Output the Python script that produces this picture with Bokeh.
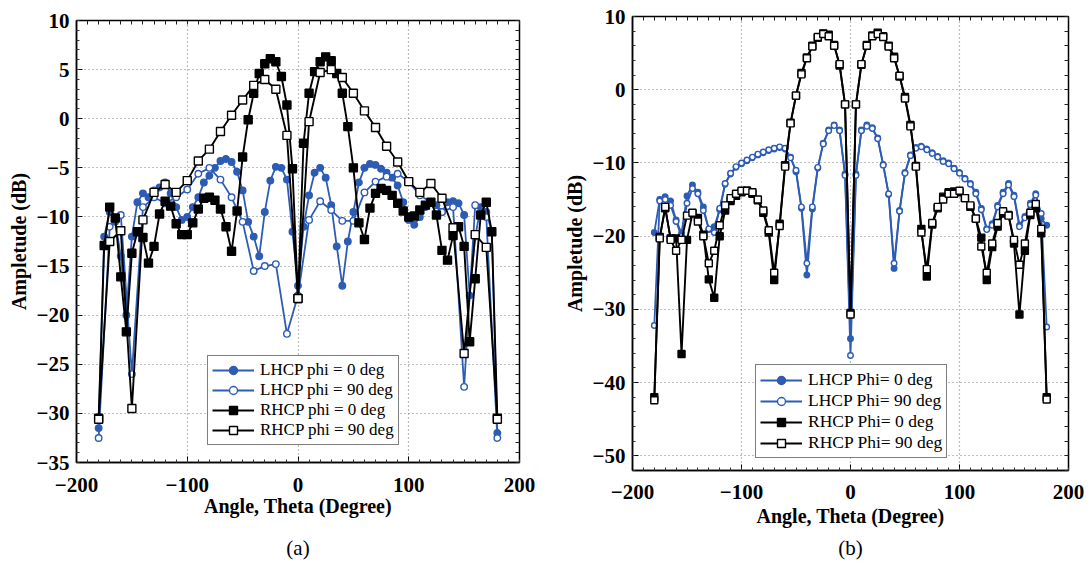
from bokeh.plotting import figure
from bokeh.layouts import row, column
from bokeh.models import LinearAxis, SingleIntervalTicker, FixedTicker, Range1d
from bokeh.embed import file_html
from bokeh.resources import INLINE

# ---------------- data ----------------
ANG5 = list(range(-180, 181, 5))    # sampled angles (deg), 5-degree cuts
ANG10 = list(range(-180, 181, 10))  # sampled angles (deg), 10-degree cuts

# panel (a)
a_lhcp_phi0 = [-31.5, -12.0, -9.5, -10.5, -14.0, -20.0, -12.0, -8.5, -7.6, -8.0,
               -7.3, -7.0, -6.5, -7.6, -9.0, -10.3, -10.0, -9.0, -8.0, -6.5,
               -5.8, -5.0, -4.3, -4.1, -4.4, -5.4, -7.3, -10.5, -12.0, -14.0,
               -9.5, -6.3, -4.9, -5.0, -6.2, -11.5, -17.0, -11.0, -7.8, -5.5,
               -5.0, -6.0, -8.8, -13.0, -17.0, -12.5, -9.5, -6.5, -5.0, -4.6,
               -4.7, -5.1, -5.5, -6.0, -6.8, -8.5, -10.3, -10.8, -10.0, -9.0,
               -8.6, -8.8, -9.5, -8.5, -8.4, -8.6, -9.8, -18.0, -12.0, -9.0,
               -9.5, -11.5, -32.0]
a_lhcp_phi90 = [-32.5, -11.0, -9.8, -26.0, -9.0, -8.0, -8.6, -8.0, -7.2, -5.6,
                -5.0, -6.2, -8.0, -10.5, -15.5, -15.0, -14.8, -21.9, -18.0, -10.3,
                -8.4, -9.3, -10.4, -10.4, -7.5, -6.4, -5.9, -5.6, -6.4, -7.8,
                -8.5, -9.5, -9.0, -27.3, -8.8, -10.0, -32.5]
a_rhcp_phi0 = [-30.5, -12.9, -9.0, -10.1, -16.1, -21.7, -13.7, -11.5, -12.1, -14.7,
               -13.0, -9.7, -8.4, -8.9, -10.7, -11.8, -11.8, -10.6, -9.2, -8.1,
               -8.0, -8.3, -9.2, -11.0, -13.5, -9.4, -3.9, -0.1, 2.6, 4.6,
               5.6, 6.1, 5.8, 4.3, 1.4, -5.1, -18.3, -2.5, 2.6, 4.8,
               5.8, 6.3, 5.9, 4.6, 2.6, -0.8, -5.0, -10.6, -12.3, -9.1,
               -7.6, -7.1, -7.3, -7.8, -8.6, -9.4, -10.0, -9.9, -9.3, -8.8,
               -8.5, -9.8, -13.4, -14.4, -11.9, -11.0, -13.0, -22.7, -16.3, -9.8,
               -8.5, -11.5, -30.5]
a_rhcp_phi90 = [-30.6, -12.5, -11.4, -29.5, -10.3, -7.5, -6.7, -7.5, -6.3, -4.3,
                -3.1, -1.3, 0.35, 1.9, 3.4, 4.0, 3.0, -1.7, -18.3, -0.3,
                4.7, 5.0, 4.2, 2.6, 0.8, -0.9, -2.8, -4.4, -6.4, -7.5,
                -6.6, -8.1, -11.1, -23.9, -11.8, -13.1, -30.6]

# panel (b)
b_lhcp_phi0 = [-19.5, -15.0, -14.6, -15.2, -17.8, -19.6, -14.5, -13.0, -14.0, -16.0,
               -19.1, -18.7, -16.4, -12.9, -11.5, -10.6, -10.1, -9.7, -9.3, -8.9,
               -8.6, -8.3, -8.1, -7.9, -8.1, -9.2, -11.2, -16.2, -25.3, -16.3,
               -10.7, -7.3, -5.5, -4.8, -5.5, -11.5, -34.0, -11.5, -5.5, -4.8,
               -5.2, -6.6, -10.2, -14.3, -24.4, -16.5, -11.3, -8.9, -7.9, -7.7,
               -8.1, -8.6, -9.1, -9.7, -10.0, -10.7, -11.3, -12.1, -12.8, -14.0,
               -16.2, -19.0, -18.3, -15.8, -14.0, -12.8, -14.4, -18.5, -17.3, -15.5,
               -14.2, -17.6, -18.5]
b_lhcp_phi90 = [-32.2, -15.2, -15.0, -15.8, -18.0, -20.0, -15.5, -13.5, -14.2, -16.5,
                -19.0, -19.5, -16.2, -12.8, -11.4, -10.5, -10.0, -9.6, -9.2, -8.8,
                -8.5, -8.2, -8.0, -7.8, -8.0, -9.3, -11.0, -16.0, -23.7, -16.0,
                -10.6, -7.4, -5.6, -4.9, -5.6, -11.7, -36.3, -11.7, -5.6, -5.0,
                -5.3, -6.7, -10.3, -14.2, -23.7, -16.6, -11.4, -9.0, -8.0, -7.8,
                -8.2, -8.7, -9.2, -9.8, -10.1, -10.8, -11.4, -12.2, -12.9, -14.2,
                -16.4, -19.1, -18.5, -16.0, -14.2, -13.0, -14.6, -18.7, -17.5, -15.7,
                -14.4, -16.9, -32.4]
b_rhcp_phi0 = [-42.0, -20.1, -16.2, -20.3, -20.3, -36.1, -20.5, -16.9, -17.5, -19.8,
               -25.9, -28.4, -20.0, -16.5, -15.2, -14.5, -14.0, -13.8, -14.2, -15.1,
               -16.8, -19.5, -26.0, -18.3, -10.3, -4.5, -0.8, 2.3, 4.4, 6.0,
               7.1, 7.7, 7.5, 6.1, 3.3, -2.0, -30.5, -2.0, 3.4, 6.1,
               7.4, 7.8, 7.3, 6.0, 4.5, 1.8, -1.0, -4.8, -10.4, -19.0,
               -25.5, -18.4, -16.2, -14.6, -14.0, -13.9, -14.0, -14.8, -16.0, -17.6,
               -20.2, -26.0, -21.5, -18.7, -16.9, -17.1, -21.0, -30.7, -22.0, -17.1,
               -16.2, -19.6, -42.0]
b_rhcp_phi90 = [-42.4, -20.3, -16.0, -20.5, -22.0, -20.5, -17.2, -16.8, -18.0, -20.0,
                -23.7, -22.0, -18.5, -15.8, -14.8, -14.2, -13.8, -13.8, -14.0, -15.0,
                -16.5, -19.2, -25.0, -18.6, -10.5, -4.6, -0.8, 2.1, 4.3, 5.9,
                7.2, 7.6, 7.3, 6.0, 3.5, -2.0, -30.7, -2.0, 3.5, 6.0,
                7.3, 7.6, 7.2, 5.9, 4.3, 1.9, -1.2, -5.0, -10.5, -19.5,
                -24.5, -18.2, -16.0, -15.0, -14.2, -14.2, -13.8, -14.8, -15.8, -17.6,
                -21.4, -25.0, -21.0, -18.2, -16.6, -17.2, -20.5, -23.9, -21.0, -16.8,
                -15.6, -19.0, -42.3]

labels_a = ["LHCP phi = 0 deg", "LHCP phi = 90 deg", "RHCP phi = 0 deg", "RHCP phi = 90 deg"]
labels_b = ["LHCP Phi= 0 deg", "LHCP Phi= 90 deg", "RHCP Phi= 0 deg", "RHCP Phi= 90 deg"]
x_label = "Angle, Theta (Degree)"
y_label = "Ampletude (dB)"

# ---------------- styling ----------------
SERIF = "Liberation Serif"
BLUE = "#2D5CB4"
BLACK = "#000000"


def make_panel(width, bl, br, bt, bb, yr, yint, series, labels, legend_loc,
               caption, tick_std, xlab_std, cap_std, sq, ci, leg_font, glyph_w):
    p = figure(width=width, height=567, x_range=Range1d(-200, 200), y_range=Range1d(*yr),
               output_backend="svg", toolbar_location=None,
               min_border_left=bl, min_border_right=br, min_border_top=bt, min_border_bottom=bb)
    p.background_fill_color = "white"
    p.border_fill_color = "white"
    p.outline_line_color = "black"
    p.outline_line_width = 1.5

    styles = [(BLUE, "circle", BLUE, ci, 1.8),
              (BLUE, "circle", "white", ci, 1.8),
              (BLACK, "square", BLACK, sq, 1.9),
              (BLACK, "square", "white", sq, 1.9)]
    for (xs, ys), (col, mk, fill, size, lw), lab in zip(series, styles, labels):
        p.line(xs, ys, line_color=col, line_width=lw, legend_label=lab)
        p.scatter(xs, ys, marker=mk, size=size, line_color=col, fill_color=fill,
                  line_width=1.4, legend_label=lab)

    # main axes
    xa = p.xaxis[0]
    xa.ticker = SingleIntervalTicker(interval=100, num_minor_ticks=10)
    ya = p.yaxis[0]
    ya.ticker = SingleIntervalTicker(interval=yint, num_minor_ticks=5)
    for ax in (xa, ya):
        ax.major_label_text_font = SERIF
        ax.major_label_text_font_style = "bold"
        ax.major_label_text_font_size = "21px"
        ax.major_label_text_color = "black"
        ax.axis_label_text_font = SERIF
        ax.axis_label_text_font_style = "bold"
        ax.axis_label_text_font_size = "20px"
        ax.axis_label_text_color = "black"
        ax.axis_line_color = "black"
        ax.axis_line_width = 1.5
        ax.major_tick_in = 6
        ax.major_tick_out = 0
        ax.minor_tick_in = 3
        ax.minor_tick_out = 0
        ax.major_tick_line_color = "black"
        ax.minor_tick_line_color = "#333333"
    xa.major_label_standoff = tick_std
    ya.major_label_standoff = 7
    xa.axis_label = x_label
    ya.axis_label = y_label
    xa.axis_label_standoff = xlab_std
    ya.axis_label_standoff = 4

    # mirrored tick marks on top / right (tick marks only, no labels)
    y0, y1 = yr
    ylo = (int(y0) // yint) * yint
    top = LinearAxis(ticker=FixedTicker(ticks=[], minor_ticks=list(range(-200, 201, 10))))
    right = LinearAxis(ticker=FixedTicker(ticks=[], minor_ticks=list(range(ylo, int(y1) + 1, yint // 5))))
    for ax in (top, right):
        ax.major_label_standoff = 0
        ax.major_tick_in = 0
        ax.major_tick_out = 0
        ax.minor_tick_in = 4
        ax.minor_tick_out = 0
        ax.axis_line_color = None
        ax.minor_tick_line_color = "#222222"
    p.add_layout(top, "above")
    p.add_layout(right, "right")

    # caption "(a)" / "(b)" as a label-only axis below
    cap = LinearAxis(ticker=FixedTicker(ticks=[], minor_ticks=[]))
    cap.major_label_standoff = 0
    cap.major_tick_in = 0
    cap.major_tick_out = 0
    cap.minor_tick_in = 0
    cap.minor_tick_out = 0
    cap.axis_line_color = None
    cap.axis_label = caption
    cap.axis_label_text_font = SERIF
    cap.axis_label_text_font_style = "normal"
    cap.axis_label_text_font_size = "21px"
    cap.axis_label_text_color = "black"
    cap.axis_label_standoff = cap_std
    p.add_layout(cap, "below")

    # grid
    p.grid.grid_line_color = "#7a7a7a"
    p.grid.grid_line_dash = "1 3"
    p.grid.grid_line_width = 1.2

    # legend
    lg = p.legend[0]
    lg.location = legend_loc
    lg.label_text_font = SERIF
    lg.label_text_font_size = leg_font
    lg.label_text_color = "black"
    lg.border_line_color = "black"
    lg.border_line_width = 1.5
    lg.background_fill_color = "white"
    lg.background_fill_alpha = 1.0
    lg.glyph_width = glyph_w
    lg.glyph_height = 20
    lg.label_height = 20
    lg.label_standoff = 6
    lg.spacing = 0
    lg.padding = 4
    lg.margin = 0
    return p


pa = make_panel(560, 76, 41, 20, 105, (-35, 10), 5,
                [(ANG5, a_lhcp_phi0), (ANG10, a_lhcp_phi90), (ANG5, a_rhcp_phi0), (ANG10, a_rhcp_phi90)],
                labels_a, (131, 17), "(a)", 15, 0, 16, 8, 6.5, "17px", 42)
pb = make_panel(531, 70, 23, 16, 97, (-52, 10), 10,
                [(ANG5, b_lhcp_phi0), (ANG5, b_lhcp_phi90), (ANG5, b_rhcp_phi0), (ANG5, b_rhcp_phi90)],
                labels_b, (123, 12), "(b)", 14, 3, 6, 7, 5.5, "17.5px", 42)

layout = row(column(pa), column(pb))
open("out.html", "w").write(file_html(layout, INLINE))
